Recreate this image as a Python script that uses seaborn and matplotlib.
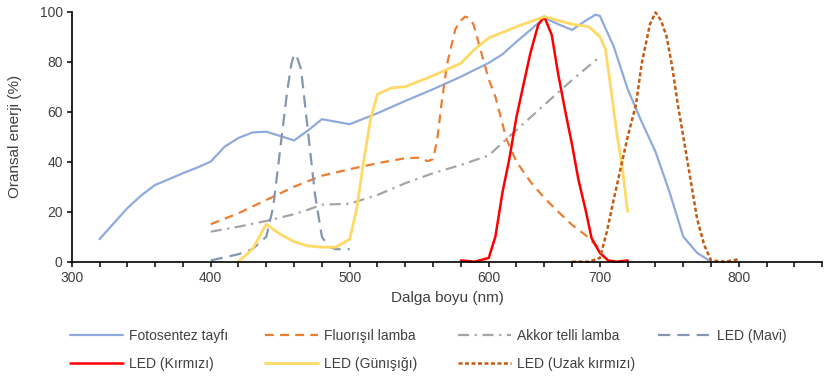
import numpy as np
import pandas as pd
import seaborn as sns
import matplotlib.pyplot as plt
from matplotlib.ticker import FixedLocator, NullFormatter

# category positions used on the x axis (uneven steps between 600 and 700)
cats = [300, 320, 340, 360, 380, 400, 420, 440, 460, 480, 500, 520, 540, 560, 580, 600,
        625, 650, 675, 700, 720, 740, 760, 780, 800, 820, 840, 860]
major_ticks = [300, 400, 500, 600, 700, 800]

# series (wavelength nm, relative energy %)
foto_x = [320, 340, 350, 360, 370, 380, 390, 400, 405, 410, 420, 430, 440, 450, 460, 470, 480,
          490, 500, 520, 540, 560, 580, 600, 612.5, 625, 637.5, 650, 662.5, 675, 687.5, 696,
          700, 710, 720, 730, 740, 750, 760, 770, 780]
foto_y = [9, 21.4, 26.5, 30.7, 33, 35.4, 37.6, 40, 43, 46, 49.5, 51.7, 52, 50.3, 48.5, 52.5, 57,
          56, 55, 59.4, 64.3, 69, 74, 79.5, 83, 88, 92.7, 97.6, 95, 92.7, 96.5, 98.8,
          98.3, 86, 69, 56, 44, 28, 10, 3.5, 0]

fluo_x = [400, 420, 440, 460, 480, 500, 520, 540, 550, 556, 560, 563, 566, 570, 576, 580, 583,
          586, 589, 594, 600, 606, 616, 625, 637.5, 650, 662.5, 675, 687.5, 700]
fluo_y = [15, 19.4, 24.7, 30, 34.4, 37, 39.4, 41.4, 41.6, 40.2, 41, 49, 63, 79, 93, 96.5, 98,
          97.5, 95, 85, 73, 66, 49, 40, 32, 25.5, 20, 14.7, 10.5, 5]

akkor_x = [400, 420, 440, 460, 470, 480, 490, 500, 520, 540, 560, 580, 600, 625, 650, 675, 700]
akkor_y = [12, 14, 16.3, 19, 20.8, 22.8, 23, 23.2, 26.7, 31.4, 35.4, 38.7, 42.5, 52.7, 62.7,
           72.7, 82]

mavi_x = [400, 420, 430, 440, 445, 450, 455, 458, 460, 462, 465, 470, 475, 480, 485, 490, 500]
mavi_y = [0.5, 3, 5, 10, 22, 45, 68, 79, 83, 82, 77, 52, 27, 10, 6, 5, 5]

kirmizi_x = [580, 590, 600, 606, 612.5, 618.5, 625, 637.5, 644.5, 650, 656.7, 662.5, 668.5,
             675, 680.6, 687.5, 692.5, 700, 706, 712, 720]
kirmizi_y = [0.5, 0, 1.5, 10, 28, 41, 58, 83.5, 94.7, 98, 90.7, 75, 61,
             46.7, 33, 20, 9.4, 3.5, 0.5, 0, 0.5]

gunes_x = [420, 430, 440, 450, 460, 470, 480, 490, 500, 505, 510, 515, 520, 530, 540, 560,
           580, 590, 600, 625, 650, 675, 690, 700, 704, 708, 712, 716, 720]
gunes_y = [0, 5, 15, 11, 8, 6.3, 5.8, 5.8, 9, 21, 40, 57, 67, 69.5, 70, 74.4,
           79.4, 85, 89.5, 94, 98, 95, 94, 90, 85, 69, 52, 38, 20]

uzak_x = [675, 690, 700, 705, 710, 714, 720, 726, 730, 736, 740, 744, 748, 752, 756, 760, 765,
          770, 775, 780, 790, 800]
uzak_y = [0, 0, 1.5, 12, 25, 35, 50, 63, 79, 95, 99.7, 96.5, 90, 78, 63, 50, 33.5,
          17, 6.7, 0.5, 0, 1]

series = [
    ("Fotosentez tayfı", foto_x, foto_y, "#8FAADC", "-", 1.6),
    ("Fluorışıl lamba", fluo_x, fluo_y, "#ED7D31", (0, (4, 2.8)), 1.6),
    ("Akkor telli lamba", akkor_x, akkor_y, "#A5A5A5", (0, (5, 2.5, 1, 2.5)), 1.6),
    ("LED (Mavi)", mavi_x, mavi_y, "#8497B0", (0, (5.5, 3.2)), 1.6),
    ("LED (Kırmızı)", kirmizi_x, kirmizi_y, "#FF0000", "-", 1.8),
    ("LED (Günışığı)", gunes_x, gunes_y, "#FFD966", "-", 2.0),
    ("LED (Uzak kırmızı)", uzak_x, uzak_y, "#C55A11", (0, (1.6, 1.0)), 1.8),
]

sns.set_theme(style="ticks")
plt.rcParams['font.family'] = ['Liberation Sans', 'DejaVu Sans']

fig = plt.figure(figsize=(8.25, 3.77), dpi=100)
ax = fig.add_axes([71.7 / 825, 1 - 261.7 / 377, (822.3 - 71.7) / 825, 250 / 377])

idx = np.arange(len(cats))
ax.set_xscale('function', functions=(lambda v: np.interp(v, cats, idx),
                                     lambda v: np.interp(v, idx, cats)))

lines = {}
for name, xs, ys, color, ls, lw in series:
    df = pd.DataFrame({"x": xs, "y": ys})
    sns.lineplot(data=df, x="x", y="y", ax=ax, color=color, linestyle=ls,
                 linewidth=lw, legend=False, clip_on=False)
    lines[name] = ax.lines[-1]

ax.set_xlim(300, 860)
ax.set_ylim(0, 100)
ax.xaxis.set_major_locator(FixedLocator(major_ticks))
ax.xaxis.set_minor_locator(FixedLocator(cats))
ax.xaxis.set_minor_formatter(NullFormatter())
ax.set_yticks([0, 20, 40, 60, 80, 100])
ax.xaxis.set_major_formatter(plt.FuncFormatter(lambda v, p: f"{v:.0f}"))

for s in ["top", "right"]:
    ax.spines[s].set_visible(False)
for s in ["left", "bottom"]:
    ax.spines[s].set_color("black")
    ax.spines[s].set_linewidth(1.2)
ax.tick_params(axis="both", which="both", direction="out", length=3.5, width=1.1,
               color="black", labelsize=10, labelcolor="#404040", pad=3)

ax.set_xlabel("Dalga boyu (nm)", fontsize=11, color="#404040", va="center")
ax.set_ylabel("Oransal enerji (%)", fontsize=11, color="#404040", va="center")
ax.xaxis.set_label_coords(0.5, -(298 - 261.7) / 250)
ax.yaxis.set_label_coords((15 - 71.7) / 750.6, 0.5)

cols = [(70, ["Fotosentez tayfı", "LED (Kırmızı)"]),
        (265, ["Fluorışıl lamba", "LED (Günışığı)"]),
        (458, ["Akkor telli lamba", "LED (Uzak kırmızı)"]),
        (658, ["LED (Mavi)"])]
for x0, names in cols:
    fig.legend([lines[n] for n in names], names, loc="upper left",
               bbox_to_anchor=(x0 / 825, 1 - 329 / 377), frameon=False,
               borderpad=0, borderaxespad=0, handlelength=3.8, handletextpad=0.45,
               labelspacing=1.0, fontsize=10, labelcolor="#404040")

fig.savefig("out.png", dpi=100)
